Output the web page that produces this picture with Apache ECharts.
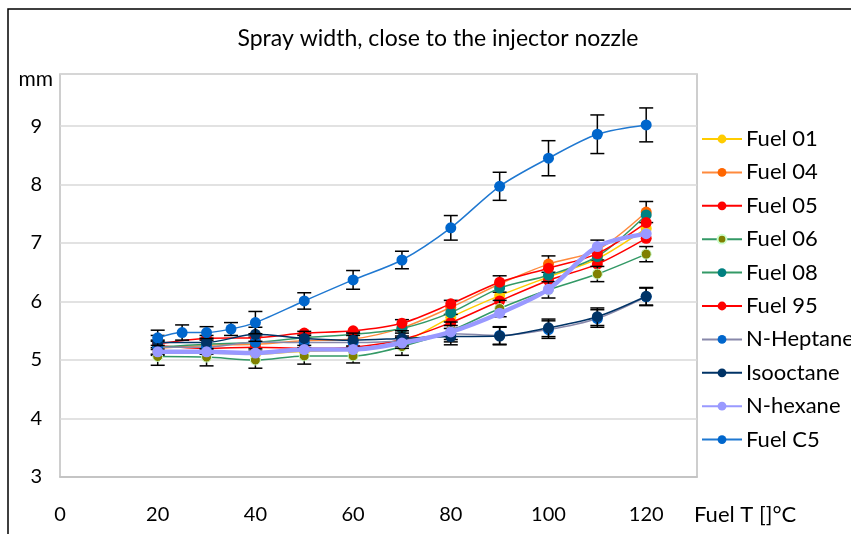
<!DOCTYPE html>
<html><head><meta charset="utf-8">
<script src="https://cdn.jsdelivr.net/npm/echarts@6/dist/echarts.min.js"></script>
<style>html,body{margin:0;padding:0;background:#fff}#c{width:851px;height:534px}</style>
</head><body><div id="c"></div>
<script>
const titleText = 'Spray width, close to the injector nozzle';
const xName = 'Fuel T []°C';
const yName = 'mm';
const temps = [20,30,40,50,60,70,80,90,100,110,120];
const tempsC5 = [20,25,30,35,40,50,60,70,80,90,100,110,120];
const fuel01 = [5.12,5.12,5.10,5.15,5.17,5.30,5.73,6.10,6.42,6.73,7.25];
const fuel04 = [5.20,5.25,5.27,5.33,5.36,5.55,5.90,6.30,6.64,6.88,7.53];
const fuel05 = [5.25,5.20,5.22,5.20,5.22,5.35,5.64,6.01,6.36,6.64,7.08];
const fuel06 = [5.06,5.05,5.00,5.07,5.07,5.23,5.50,5.88,6.20,6.47,6.81];
const fuel08 = [5.22,5.27,5.30,5.38,5.44,5.54,5.81,6.23,6.45,6.77,7.48];
const fuel95 = [5.28,5.37,5.38,5.46,5.50,5.63,5.96,6.33,6.57,6.82,7.35];
const nHeptane = [5.22,5.22,5.31,5.30,5.30,5.33,5.45,5.42,5.52,5.71,6.08];
const isooctane = [5.30,5.30,5.44,5.37,5.34,5.37,5.40,5.41,5.55,5.74,6.09];
const nHexane = [5.14,5.14,5.12,5.18,5.18,5.29,5.48,5.80,6.21,6.94,7.16];
const fuelC5 = [5.38,5.47,5.47,5.53,5.64,6.01,6.37,6.71,7.26,7.97,8.45,8.86,9.02];
const errC5 = [0.13,0.13,0.10,0.11,0.19,0.14,0.16,0.15,0.21,0.24,0.30,0.33,0.29];
const err04 = [0.12,0.12,0.12,0.12,0.12,0.14,0.12,0.14,0.14,0.17,0.18];
const err06 = [0.15,0.15,0.14,0.14,0.12,0.15,0.15,0.14,0.14,0.13,0.13];
const errIso = [0.12,0.12,0.12,0.12,0.12,0.13,0.14,0.15,0.15,0.15,0.15];
const errHep = [0.12,0.12,0.12,0.12,0.12,0.13,0.14,0.15,0.15,0.15,0.15];

const FONT = 'Lato';

function lineS(name, xs, ys, lineColor, markerColor, o) {
  o = o || {};
  return {
    type: 'line', name: name,
    data: xs.map((x, i) => [x, ys[i]]),
    smooth: 0.3, symbol: 'circle', symbolSize: o.size || 11,
    lineStyle: { color: lineColor, width: o.width || 1.5 },
    itemStyle: { color: markerColor, borderColor: o.border || markerColor, borderWidth: o.bw || 0 },
    z: o.z || 2, animation: false, emphasis: { disabled: true }
  };
}
function errS(name, xs, ys, es, z) {
  return {
    type: 'custom', name: name + ' err', silent: true, z: z || 2, animation: false,
    data: xs.map((x, i) => [x, ys[i] - es[i], ys[i] + es[i]]),
    encode: { x: 0, y: [1, 2] },
    renderItem: function (params, api) {
      const x = api.value(0);
      const lo = api.coord([x, api.value(1)]);
      const hi = api.coord([x, api.value(2)]);
      const w = 7;
      const st = { stroke: '#000', lineWidth: 1.5 };
      return { type: 'group', children: [
        { type: 'line', shape: { x1: lo[0], y1: lo[1], x2: hi[0], y2: hi[1] }, style: st },
        { type: 'line', shape: { x1: lo[0] - w, y1: lo[1], x2: lo[0] + w, y2: lo[1] }, style: st },
        { type: 'line', shape: { x1: hi[0] - w, y1: hi[1], x2: hi[0] + w, y2: hi[1] }, style: st }
      ]};
    }
  };
}

const names = ['Fuel 01','Fuel 04','Fuel 05','Fuel 06','Fuel 08','Fuel 95','N-Heptane','Isooctane','N-hexane','Fuel C5'];

const chart = echarts.init(document.getElementById('c'), null, { renderer: 'canvas' });
chart.setOption({
  animation: false,
  backgroundColor: '#fff',
  textStyle: { fontFamily: FONT },
  title: { text: titleText, left: 433, top: 22, textAlign: 'center',
    textStyle: { fontFamily: FONT, fontSize: 23, fontWeight: 'normal', color: '#000' } },
  graphic: [{ type: 'rect', shape: { x: 8, y: 9, width: 900, height: 600 },
    style: { fill: 'none', stroke: '#000', lineWidth: 1.5 }, silent: true, z: 100 }],
  grid: { left: 60, top: 74, right: 154, bottom: 57, show: true, borderColor: '#BFBFBF', borderWidth: 1.5, containLabel: false },
  legend: {
    orient: 'vertical', left: 696, top: 122, itemWidth: 40, itemHeight: 11, itemGap: 9.4,
    data: names, selectedMode: false,
    textStyle: { fontFamily: FONT, fontSize: 22, color: '#000', lineHeight: 24, padding: [0,0,0,-1] }
  },
  xAxis: {
    type: 'value', min: 0, max: 130.4, interval: 20,
    name: xName, nameLocation: 'end', nameGap: -3,
    nameTextStyle: { fontFamily: FONT, fontSize: 22, color: '#000', align: 'left', verticalAlign: 'top', padding: [27, 0, 0, 0] },
    axisLine: { show: true, lineStyle: { color: '#BFBFBF', width: 1.5 } },
    axisTick: { show: false },
    splitLine: { show: false },
    axisLabel: { margin: 28, fontFamily: FONT, fontSize: 20, color: '#000',
      formatter: v => (v % 20 === 0 ? String(v) : '') }
  },
  yAxis: {
    type: 'value', min: 3, max: 9.89, interval: 1,
    name: yName, nameLocation: 'end', nameGap: -5,
    nameTextStyle: { fontFamily: FONT, fontSize: 21, color: '#000', align: 'right', verticalAlign: 'middle', padding: [0, 7, 0, 0] },
    axisLine: { show: false },
    axisTick: { show: false },
    splitLine: { show: true, lineStyle: { color: '#D9D9D9', width: 1.5 } },
    axisLabel: { margin: 18, fontFamily: FONT, fontSize: 20, color: '#000',
      formatter: v => (Math.abs(v - Math.round(v)) < 1e-6 ? String(Math.round(v)) : '') }
  },
  series: [
    lineS('Fuel 01', temps, fuel01, '#FFCC00', '#FFCC00', { z: 2 }),
    errS('Fuel 04', temps, fuel04, err04, 3),
    lineS('Fuel 04', temps, fuel04, '#FF8A3D', '#FF6600', { z: 3 }),
    lineS('Fuel 05', temps, fuel05, '#FF0000', '#FF0000', { z: 4 }),
    errS('Fuel 06', temps, fuel06, err06, 5),
    lineS('Fuel 06', temps, fuel06, '#339966', '#808000', { z: 5, border: '#CCFFCC', bw: 1, size: 10 }),
    lineS('Fuel 08', temps, fuel08, '#339966', '#008080', { z: 6 }),
    lineS('Fuel 95', temps, fuel95, '#FF0000', '#FF0000', { z: 7 }),
    errS('N-Heptane', temps, nHeptane, errHep, 8),
    lineS('N-Heptane', temps, nHeptane, '#8888AA', '#0066CC', { z: 8 }),
    errS('Isooctane', temps, isooctane, errIso, 9),
    lineS('Isooctane', temps, isooctane, '#003366', '#003366', { z: 9 }),
    lineS('N-hexane', temps, nHexane, '#9999FF', '#9999FF', { z: 10, width: 4.5 }),
    errS('Fuel C5', tempsC5, fuelC5, errC5, 11),
    lineS('Fuel C5', tempsC5, fuelC5, '#1F78D1', '#0066CC', { z: 11 })
  ]
});
</script></body></html>
